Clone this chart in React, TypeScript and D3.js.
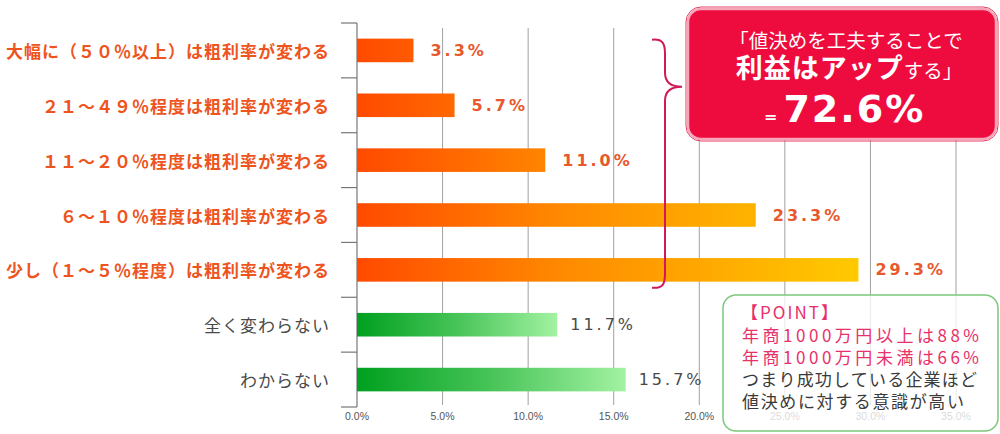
import React from 'react';
import * as d3 from 'd3';

const categories = [
  '大幅に（５０％以上）は粗利率が変わる',
  '２１～４９％程度は粗利率が変わる',
  '１１～２０％程度は粗利率が変わる',
  '６～１０％程度は粗利率が変わる',
  '少し（１～５％程度）は粗利率が変わる',
  '全く変わらない',
  'わからない',
];
const values = [3.3, 5.7, 11.0, 23.3, 29.3, 11.7, 15.7];
const groups = ['up', 'up', 'up', 'up', 'up', 'none', 'none'];
const xTicks = [0, 5, 10, 15, 20, 25, 30, 35];

const calloutLine1 = '「値決めを工夫することで';
const calloutBold = '利益はアップ';
const calloutTail = 'する」';
const calloutEq = '=';
const calloutValue = '72.6%';

const pointTitle = '【POINT】';
const pointLines = ['年商1000万円以上は88%', '年商1000万円未満は66%'];
const pointNotes = ['つまり成功している企業ほど', '値決めに対する意識が高い'];
const pointLineLengths = [237, 237];
const pointNoteLengths = [235, 222];

const W = 1000;
const H = 434;

export default function App() {
  const x = d3.scaleLinear().domain([0, 35]).range([357, 956]);
  const y = d3
    .scaleBand<string>()
    .domain(categories)
    .range([23, 407])
    .paddingInner(0.57)
    .paddingOuter(0.285);
  const step = y.step();
  const bw = y.bandwidth();
  const [r0, r1] = y.range();
  const fmt = d3.format('.1f');
  const boundaries = d3.range(categories.length + 1).map((i) => r0 + i * step);

  const braceTop = (y(categories[0]) as number) + 1;
  const braceBot = (y(categories[4]) as number) + bw + 6;
  const braceTip = r0 + step + 9;
  const bx = 665;
  const bracePath = [
    `M ${bx - 13} ${braceTop}`,
    `C ${bx - 2} ${braceTop - 1}, ${bx} ${braceTop + 4}, ${bx} ${braceTop + 14}`,
    `L ${bx} ${braceTip - 14}`,
    `C ${bx} ${braceTip - 4}, ${bx + 6} ${braceTip}, ${bx + 17} ${braceTip}`,
    `C ${bx + 6} ${braceTip}, ${bx} ${braceTip + 4}, ${bx} ${braceTip + 14}`,
    `L ${bx} ${braceBot - 14}`,
    `C ${bx} ${braceBot - 4}, ${bx - 2} ${braceBot + 1}, ${bx - 13} ${braceBot}`,
  ].join(' ');

  const cjk = '"Noto Sans CJK JP", "Noto Sans", sans-serif';
  const wide = '"DejaVu Sans", Verdana, sans-serif';

  return (
    <svg
      width={W}
      height={H}
      style={{ position: 'absolute', left: 0, top: 0, background: '#fff' }}
    >
      <defs>
        <linearGradient
          id="gUp"
          gradientUnits="userSpaceOnUse"
          x1={x(0)}
          x2={x(30)}
          y1={0}
          y2={0}
        >
          <stop offset="0" stopColor="#ff4a00" />
          <stop offset="0.4" stopColor="#ff8a00" />
          <stop offset="1" stopColor="#ffcc00" />
        </linearGradient>
        <linearGradient id="gNone" x1="0" x2="1" y1="0" y2="0">
          <stop offset="0" stopColor="#00a020" />
          <stop offset="0.5" stopColor="#48c458" />
          <stop offset="1" stopColor="#a2f2a2" />
        </linearGradient>
      </defs>

      {/* gridlines */}
      {xTicks
        .filter((t) => t > 0)
        .map((t) => (
          <line
            key={'g' + t}
            x1={x(t)}
            x2={x(t)}
            y1={r0 + 5}
            y2={r1 - 2}
            stroke="#a0a0a0"
            strokeWidth={1}
          />
        ))}

      {/* category axis */}
      <line x1={x(0)} x2={x(0)} y1={r0} y2={r1} stroke="#777" strokeWidth={1.2} />
      {boundaries.map((b, i) => (
        <line key={'t' + i} x1={x(0) - 16} x2={x(0)} y1={b} y2={b} stroke="#777" strokeWidth={1.2} />
      ))}

      {/* x tick labels */}
      {xTicks.map((t) => (
        <text
          key={'xl' + t}
          x={x(t)}
          y={420}
          textAnchor="middle"
          fontFamily='"Liberation Sans", Arial, sans-serif'
          fontSize={10.5}
          fill="#555"
        >
          {fmt(t) + '%'}
        </text>
      ))}

      {/* bars */}
      {categories.map((c, i) => (
        <rect
          key={'b' + i}
          x={x(0)}
          y={y(c)}
          width={x(values[i]) - x(0)}
          height={bw}
          fill={groups[i] === 'up' ? 'url(#gUp)' : 'url(#gNone)'}
        />
      ))}

      {/* category labels */}
      {categories.map((c, i) => (
        <text
          key={'cl' + i}
          x={330}
          y={(y(c) as number) + bw / 2}
          dominantBaseline="central"
          textAnchor="end"
          fontFamily={cjk}
          fontSize={17}
          letterSpacing={1}
          fontWeight={groups[i] === 'up' ? 700 : 400}
          fill={groups[i] === 'up' ? '#ee5420' : '#4a4a4a'}
        >
          {c}
        </text>
      ))}

      {/* value labels */}
      {categories.map((c, i) => (
        <text
          key={'vl' + i}
          x={x(values[i]) + (groups[i] === 'up' ? 17 : 13)}
          y={(y(c) as number) + bw / 2}
          dominantBaseline="central"
          fontFamily={wide}
          fontSize={16}
          letterSpacing={3}
          fontWeight={groups[i] === 'up' ? 700 : 400}
          fill={groups[i] === 'up' ? '#e8582c' : '#4a4a4a'}
        >
          {fmt(values[i]) + '%'}
        </text>
      ))}

      {/* brace */}
      <path d={bracePath} fill="none" stroke="#d0185a" strokeWidth={2} />

      {/* callout box */}
      <rect x={686} y={7} width={312} height={134} rx={15} fill="none" stroke="#e03a60" strokeWidth={1} />
      <rect x={688} y={9} width={308} height={130} rx={13} fill="#ee0c3e" stroke="#f7a6ba" strokeWidth={2.5} />
      <text x={846} y={48} textAnchor="middle" fontFamily={cjk} fontSize={19.5} fill="#fff">
        {calloutLine1}
      </text>
      <text x={849} y={78} textAnchor="middle" fontFamily={cjk} fill="#fff">
        <tspan fontSize={27} fontWeight={700} letterSpacing={1}>
          {calloutBold}
        </tspan>
        <tspan fontSize={19.5}>{calloutTail}</tspan>
      </text>
      <text x={764} y={122} fontFamily={wide} fill="#fff">
        <tspan fontSize={16} fontWeight={700}>{calloutEq}</tspan>
        <tspan dx={6} fontSize={38} fontWeight={700} letterSpacing={2}>
          {calloutValue}
        </tspan>
      </text>

      {/* point box */}
      <rect
        x={723}
        y={295}
        width={275}
        height={136}
        rx={13}
        fill="#fff"
        fillOpacity={0.78}
        stroke="#7cc87c"
        strokeWidth={1.5}
      />
      <text
        x={741}
        y={319}
        fontFamily={cjk}
        fontSize={17}
        fill="#e8306a"
        textLength={97}
        lengthAdjust="spacing"
      >
        {pointTitle}
      </text>
      {pointLines.map((l, i) => (
        <text
          key={'pl' + i}
          x={742}
          y={342 + i * 22}
          fontFamily={cjk}
          fontSize={17}
          fill="#e8306a"
          textLength={pointLineLengths[i]}
          lengthAdjust="spacing"
        >
          {l}
        </text>
      ))}
      {pointNotes.map((l, i) => (
        <text
          key={'pn' + i}
          x={742}
          y={386 + i * 22}
          fontFamily={cjk}
          fontSize={17}
          fill="#3a3a3a"
          textLength={pointNoteLengths[i]}
          lengthAdjust="spacing"
        >
          {l}
        </text>
      ))}
    </svg>
  );
}
